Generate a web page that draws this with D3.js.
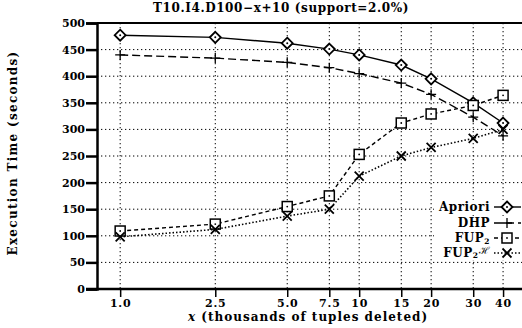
<!DOCTYPE html>
<html>
<head>
<meta charset="utf-8">
<script src="https://cdn.jsdelivr.net/npm/d3@7"></script>
<style>
  body { margin: 0; background: #fff; }
  svg { display: block; }
  text { font-family: "DejaVu Serif", serif; font-weight: bold; fill: #000; }
</style>
</head>
<body>
<div id="chart"></div>
<script>
// values
const xValues = [1.0, 2.5, 5.0, 7.5, 10, 15, 20, 30, 40];
const xTickLabels = ["1.0", "2.5", "5.0", "7.5", "10", "15", "20", "30", "40"];
const yTicks = [0, 50, 100, 150, 200, 250, 300, 350, 400, 450, 500];
const apriori = [477, 473, 462, 451, 440, 421, 395, 350, 312];
const dhp = [440, 434, 426, 416, 405, 387, 366, 323, 288];
const fup2 = [109, 122, 155, 175, 253, 312, 329, 345, 364];
const fup2h = [98, 112, 137, 150, 212, 250, 266, 283, 300];

const series = [
    {name: "Apriori", values: apriori, dash: null, mark: "diamond"},
    {name: "DHP", values: dhp, dash: "8,4", mark: "plus"},
    {name: "FUP2", values: fup2, dash: "4,3", mark: "square"},
    {name: "FUP2H", values: fup2h, dash: "1.5,2", mark: "cross"}
];

const W = 522, H = 328;
const pLeft = 97, pRight = 522, pTop = 23, pBottom = 289;

const svg = d3.select('#chart').append('svg')
    .attr('width', W)
    .attr('height', H);

const x = d3.scaleLog().domain([0.8, 48]).range([pLeft, pRight]);
const y = d3.scaleLinear().domain([0, 500]).range([pBottom, pTop]);

// grid
svg.append('g').selectAll('line')
    .data(yTicks.filter(d => d > 0 && d < 500))
    .enter().append('line')
    .attr('x1', pLeft).attr('x2', pRight)
    .attr('y1', d => y(d)).attr('y2', d => y(d))
    .attr('stroke', '#000').attr('stroke-width', 1)
    .attr('stroke-dasharray', '1.3,2.7');

svg.append('g').selectAll('line')
    .data(xValues)
    .enter().append('line')
    .attr('x1', d => x(d)).attr('x2', d => x(d))
    .attr('y1', pTop).attr('y2', pBottom)
    .attr('stroke', '#000').attr('stroke-width', 1)
    .attr('stroke-dasharray', '1.3,2.7');

// frame
svg.append('line').attr('x1', pLeft).attr('x2', pRight).attr('y1', pTop).attr('y2', pTop)
    .attr('stroke', '#000').attr('stroke-width', 2);

// y axis
const yAxis = d3.axisLeft(y).tickValues(yTicks).tickSize(11).tickPadding(1);
const gy = svg.append('g').attr('transform', `translate(${pLeft},0)`).call(yAxis);
gy.select('.domain').attr('stroke-width', 2.5);
gy.selectAll('.tick line').attr('stroke-width', 2.5);
gy.selectAll('.tick text').style('font-size', '11px');

// x axis
const xAxis = d3.axisBottom(x).tickValues(xValues)
    .tickFormat((d, i) => xTickLabels[i]).tickSize(8).tickPadding(2);
const gx = svg.append('g').attr('transform', `translate(0,${pBottom})`).call(xAxis);
gx.select('.domain').attr('stroke-width', 2.5).attr('d', `M${pLeft - 11},0H${pRight}`);
gx.selectAll('.tick line').attr('stroke-width', 1.5);
gx.selectAll('.tick text').style('font-size', '11px').style('letter-spacing', '0.8px');

// lines
const line = d3.line().x((d, i) => x(xValues[i])).y(d => y(d));

function drawMark(g, type, cx, cy) {
    if (type === 'diamond') {
        g.append('path').attr('d', `M${cx},${cy - 5.5}L${cx + 5.5},${cy}L${cx},${cy + 5.5}L${cx - 5.5},${cy}Z`)
            .attr('fill', '#fff').attr('stroke', '#000').attr('stroke-width', 1.8);
        g.append('circle').attr('cx', cx).attr('cy', cy).attr('r', 1).attr('fill', '#000');
    } else if (type === 'plus') {
        g.append('path').attr('d', `M${cx - 5},${cy}H${cx + 5}M${cx},${cy - 5}V${cy + 5}`)
            .attr('stroke', '#000').attr('stroke-width', 1.3).attr('fill', 'none');
    } else if (type === 'square') {
        g.append('rect').attr('x', cx - 5).attr('y', cy - 5).attr('width', 10).attr('height', 10)
            .attr('fill', '#fff').attr('stroke', '#000').attr('stroke-width', 1.5);
        g.append('circle').attr('cx', cx).attr('cy', cy).attr('r', 0.9).attr('fill', '#000');
    } else {
        g.append('path').attr('d', `M${cx - 4.5},${cy - 4.5}L${cx + 4.5},${cy + 4.5}M${cx + 4.5},${cy - 4.5}L${cx - 4.5},${cy + 4.5}`)
            .attr('stroke', '#000').attr('stroke-width', 1.8).attr('fill', 'none');
    }
}

series.forEach(s => {
    svg.append('path').datum(s.values)
        .attr('d', line)
        .attr('fill', 'none').attr('stroke', '#000')
        .attr('stroke-width', s.dash === '1.5,2' ? 1.6 : 1.4)
        .attr('stroke-dasharray', s.dash);
    const g = svg.append('g');
    s.values.forEach((v, i) => drawMark(g, s.mark, x(xValues[i]), y(v)));
});

// legend
const legY = [207, 223, 238, 253];
series.forEach((s, i) => {
    const ly = legY[i];
    svg.append('rect').attr('x', 434).attr('y', ly - 7).attr('width', 88).attr('height', 14).attr('fill', '#fff');
    const t = svg.append('text').attr('x', 490).attr('y', ly + 4)
        .attr('text-anchor', 'end').style('font-size', '12px').style('letter-spacing', '0.5px');
    if (s.name === 'FUP2') {
        t.append('tspan').text('FUP');
        t.append('tspan').text('2').attr('dy', 2).style('font-size', '7.5px');
    } else if (s.name === 'FUP2H') {
        t.append('tspan').text('FUP');
        t.append('tspan').text('2').attr('dy', 1).style('font-size', '7.5px');
        t.append('tspan').text('ℋ').attr('dy', -4).style('font-size', '10px').style('font-weight', 'normal');
    } else {
        t.text(s.name);
    }
    svg.append('line').attr('x1', 494).attr('x2', 521).attr('y1', ly).attr('y2', ly)
        .attr('stroke', '#000').attr('stroke-width', 1.4).attr('stroke-dasharray', s.dash);
    drawMark(svg.append('g'), s.mark, 507, ly);
});

// title and axis labels
svg.append('text').attr('x', 281).attr('y', 12).attr('text-anchor', 'middle')
    .style('font-size', '12px').style('letter-spacing', '0.6px')
    .text('T10.I4.D100\u2212x+10 (support=2.0%)');

const xl = svg.append('text').attr('x', 308).attr('y', 321).attr('text-anchor', 'middle')
    .style('font-size', '12px').style('letter-spacing', '1px');
xl.append('tspan').text('x').style('font-style', 'italic');
xl.append('tspan').text(' (thousands of tuples deleted)');

svg.append('text').attr('transform', `translate(17,153) rotate(-90)`)
    .attr('text-anchor', 'middle').style('font-size', '12px').style('letter-spacing', '1.3px')
    .text('Execution Time (seconds)');
</script>
</body>
</html>
